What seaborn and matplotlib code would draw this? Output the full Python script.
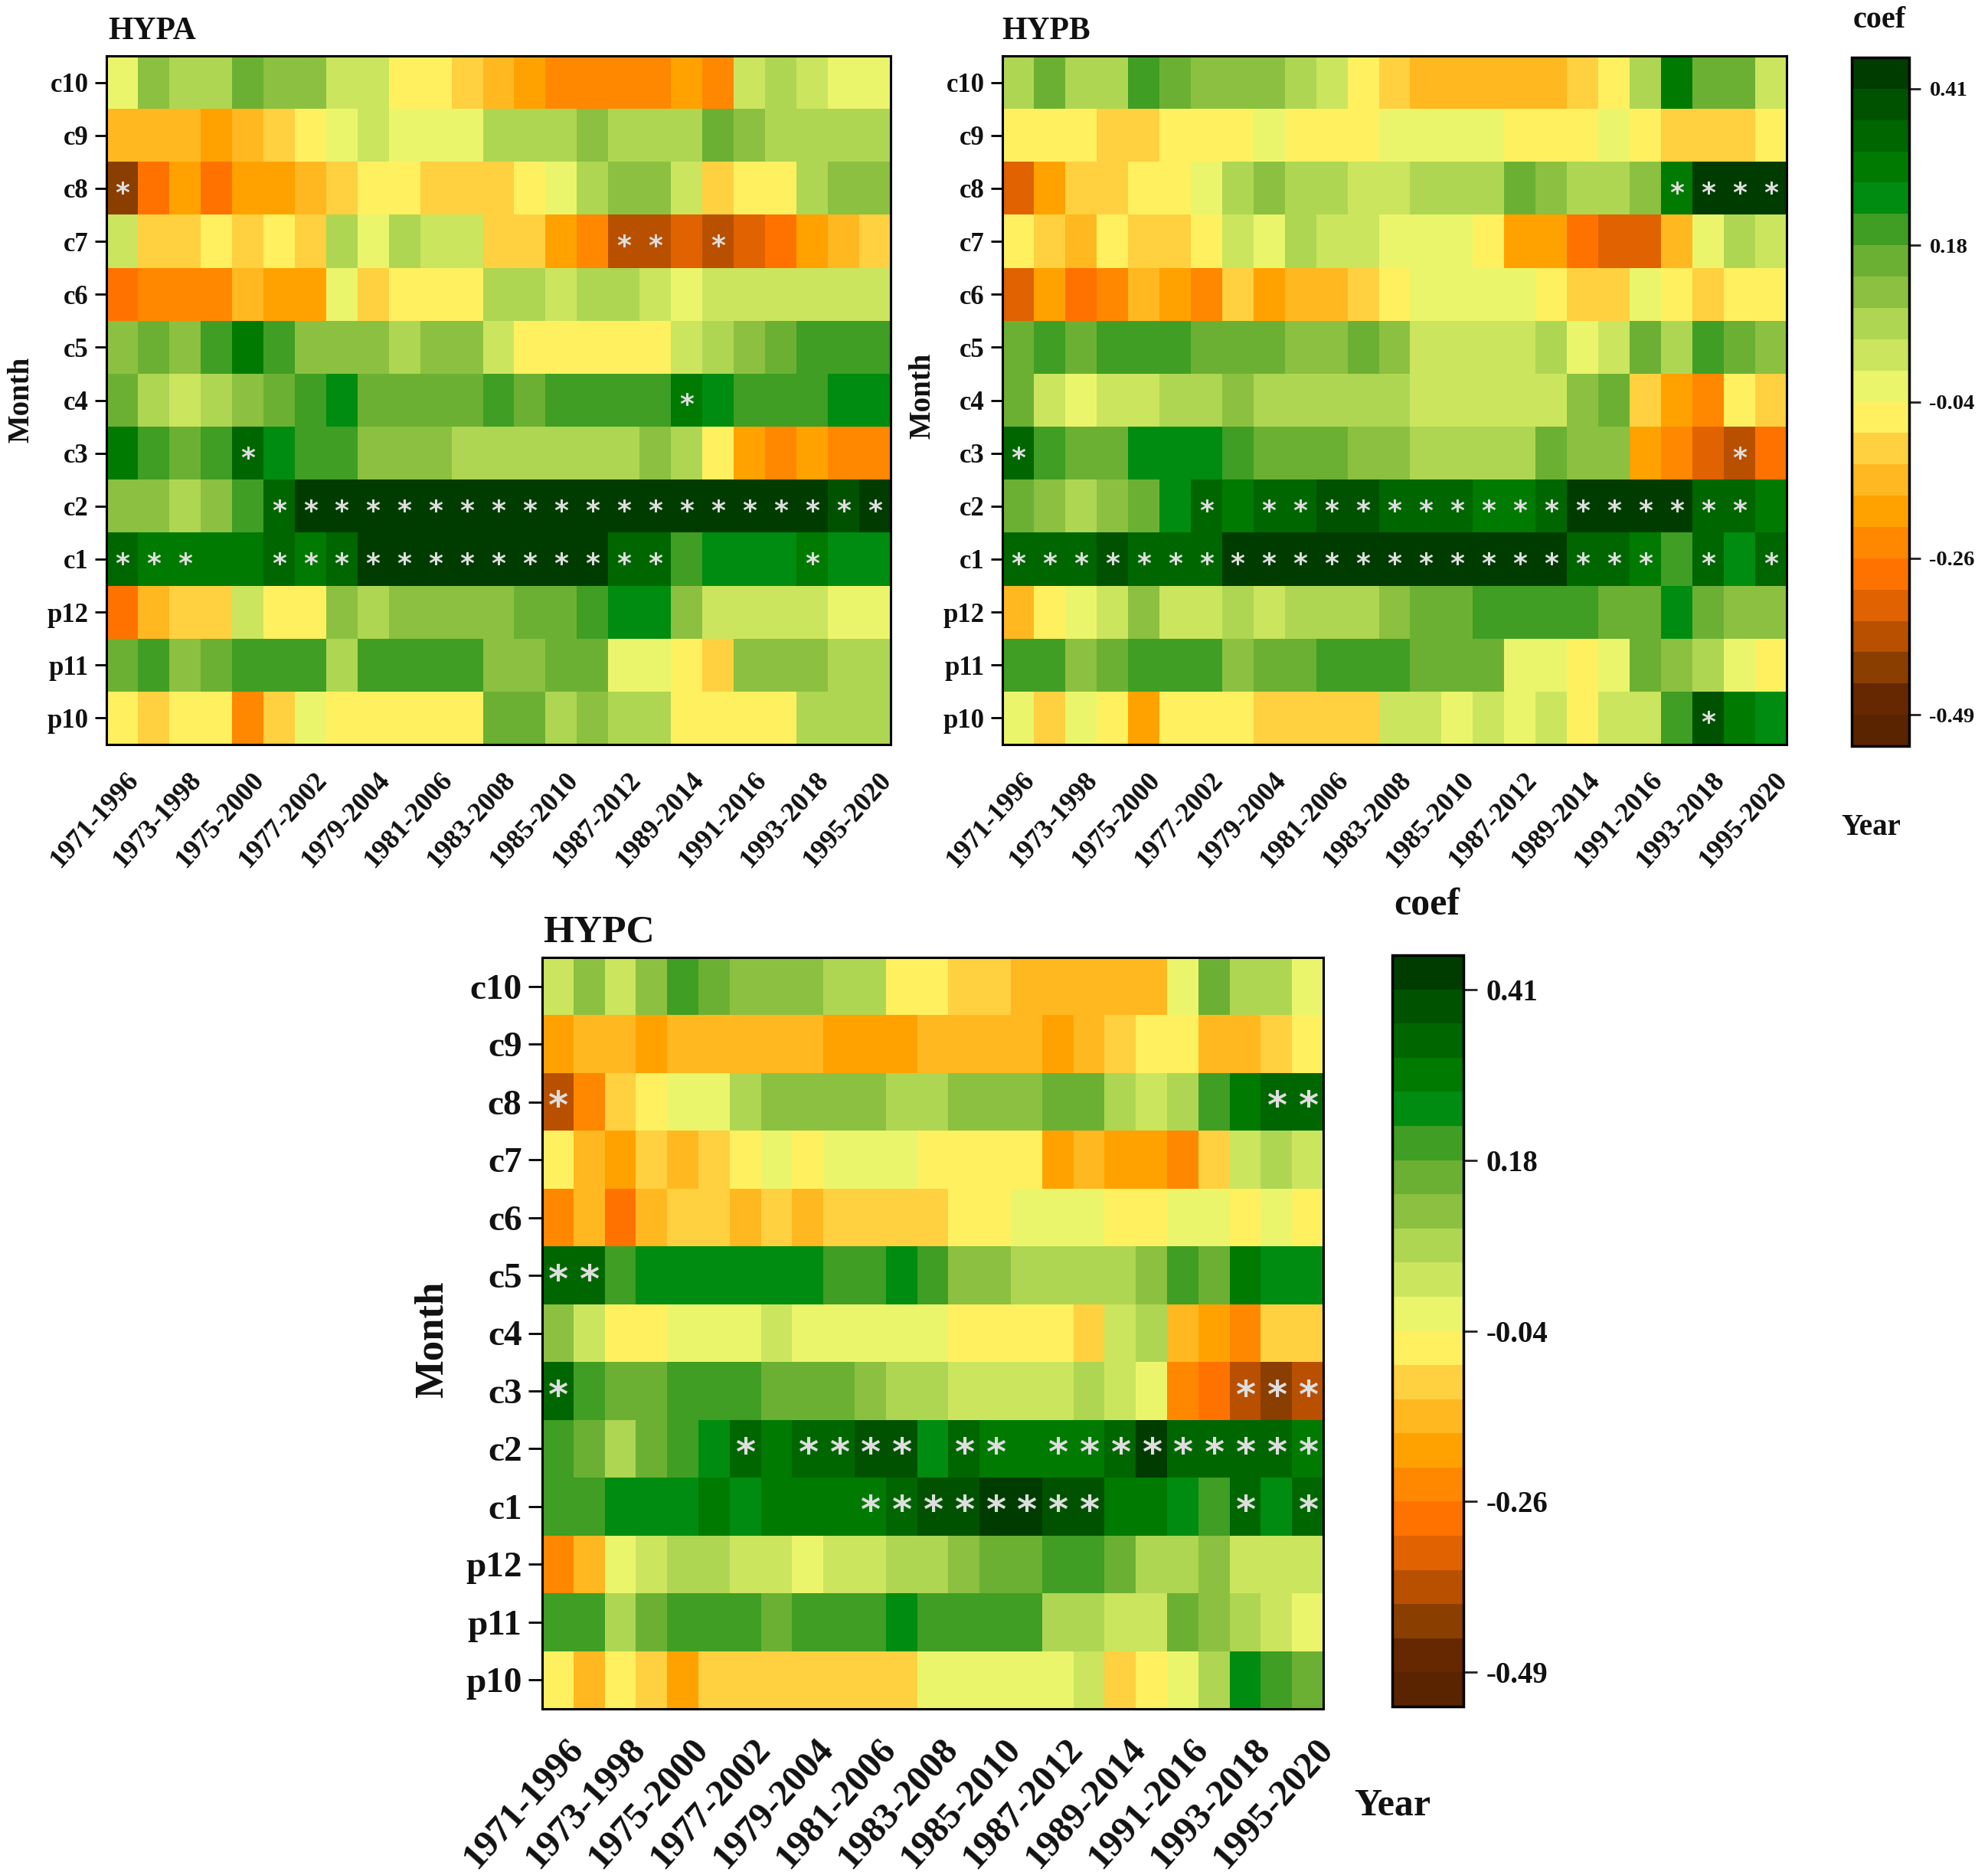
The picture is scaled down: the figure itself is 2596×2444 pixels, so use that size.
import numpy as np
import pandas as pd
import seaborn as sns
import matplotlib.pyplot as plt
from matplotlib.colors import ListedColormap
from matplotlib.transforms import ScaledTranslation

FONT = 'Liberation Serif'
W, H = 2596, 2444

months = ['c10', 'c9', 'c8', 'c7', 'c6', 'c5', 'c4', 'c3', 'c2', 'c1', 'p12', 'p11', 'p10']
periods = ['1971-1996', '1972-1997', '1973-1998', '1974-1999', '1975-2000', '1976-2001', '1977-2002',
           '1978-2003', '1979-2004', '1980-2005', '1981-2006', '1982-2007', '1983-2008', '1984-2009',
           '1985-2010', '1986-2011', '1987-2012', '1988-2013', '1989-2014', '1990-2015', '1991-2016',
           '1992-2017', '1993-2018', '1994-2019', '1995-2020']

hypa = [
    [-.02, .12, .07, .07, .16, .12, .12, .03, .03, -.06, -.06, -.11, -.15, -.20, -.24, -.24, -.24, -.24, -.20, -.24, .03, .07, .03, -.02, -.02],
    [-.15, -.15, -.15, -.20, -.15, -.11, -.06, -.02, .03, -.02, -.02, -.02, .07, .07, .07, .12, .07, .07, .07, .16, .12, .07, .07, .07, .07],
    [-.42, -.29, -.20, -.29, -.20, -.20, -.15, -.11, -.06, -.06, -.11, -.11, -.11, -.06, -.02, .07, .12, .12, .03, -.11, -.06, -.06, .07, .12, .12],
    [.03, -.11, -.11, -.06, -.11, -.06, -.11, .07, -.02, .07, .03, .03, -.11, -.11, -.20, -.24, -.38, -.38, -.33, -.38, -.33, -.29, -.20, -.15, -.11],
    [-.29, -.24, -.24, -.24, -.15, -.20, -.20, -.02, -.11, -.06, -.06, -.06, .07, .07, .03, .07, .07, .03, -.02, .03, .03, .03, .03, .03, .03],
    [.12, .16, .12, .21, .30, .21, .12, .12, .12, .07, .12, .12, .03, -.06, -.06, -.06, -.06, -.06, .03, .07, .12, .16, .21, .21, .21],
    [.16, .07, .03, .07, .12, .16, .21, .25, .16, .16, .16, .16, .21, .16, .21, .21, .21, .21, .30, .25, .21, .21, .21, .25, .25],
    [.30, .21, .16, .21, .34, .25, .21, .21, .12, .12, .12, .07, .07, .07, .07, .07, .07, .12, .07, -.06, -.20, -.24, -.20, -.24, -.24],
    [.12, .12, .07, .12, .21, .34, .43, .43, .43, .43, .43, .43, .43, .43, .43, .43, .43, .43, .43, .43, .43, .43, .43, .39, .43],
    [.34, .30, .30, .30, .30, .34, .30, .34, .43, .43, .43, .43, .43, .43, .43, .43, .34, .34, .21, .25, .25, .25, .30, .25, .25],
    [-.29, -.15, -.11, -.11, .03, -.06, -.06, .12, .07, .12, .12, .12, .12, .16, .16, .21, .25, .25, .12, .03, .03, .03, .03, -.02, -.02],
    [.16, .21, .12, .16, .21, .21, .21, .07, .21, .21, .21, .21, .12, .12, .16, .16, -.02, -.02, -.06, -.11, .12, .12, .12, .07, .07],
    [-.06, -.11, -.06, -.06, -.24, -.11, -.02, -.06, -.06, -.06, -.06, -.06, .16, .16, .07, .12, .07, .07, -.06, -.06, -.06, -.06, .07, .07, .07],
]

hypb = [
    [.07, .16, .07, .07, .21, .16, .12, .12, .12, .07, .03, -.06, -.11, -.15, -.15, -.15, -.15, -.15, -.11, -.06, .07, .30, .16, .16, .03],
    [-.06, -.06, -.06, -.11, -.11, -.06, -.06, -.06, -.02, -.06, -.06, -.06, -.02, -.02, -.02, -.02, -.06, -.06, -.06, -.02, -.06, -.11, -.11, -.11, -.06],
    [-.33, -.20, -.11, -.11, -.06, -.06, -.02, .07, .12, .07, .07, .03, .03, .07, .07, .07, .16, .12, .07, .07, .12, .30, .43, .43, .43],
    [-.06, -.11, -.15, -.06, -.11, -.11, -.06, .03, -.02, .07, .03, .03, -.02, -.02, -.02, -.06, -.20, -.20, -.29, -.33, -.33, -.15, -.02, .07, .03],
    [-.33, -.20, -.29, -.24, -.15, -.20, -.24, -.11, -.20, -.15, -.15, -.11, -.06, -.02, -.02, -.02, -.02, -.06, -.11, -.11, -.02, -.06, -.11, -.06, -.06],
    [.16, .21, .16, .21, .21, .21, .16, .16, .16, .12, .12, .16, .12, .03, .03, .03, .03, .07, -.02, .03, .16, .07, .21, .16, .12],
    [.16, .03, -.02, .03, .03, .07, .07, .12, .07, .07, .07, .07, .07, .03, .03, .03, .03, .03, .12, .16, -.11, -.20, -.24, -.06, -.11],
    [.34, .21, .16, .16, .25, .25, .25, .21, .16, .16, .16, .12, .12, .07, .07, .07, .07, .16, .12, .12, -.20, -.24, -.33, -.38, -.29],
    [.16, .12, .07, .12, .16, .25, .34, .30, .34, .34, .39, .39, .34, .34, .34, .30, .30, .34, .43, .43, .43, .43, .34, .34, .30],
    [.34, .34, .34, .39, .34, .34, .34, .43, .43, .43, .43, .43, .43, .43, .43, .43, .43, .43, .34, .34, .30, .21, .34, .25, .34],
    [-.15, -.06, -.02, .03, .12, .03, .03, .07, .03, .07, .07, .07, .12, .16, .16, .21, .21, .21, .21, .16, .16, .25, .16, .12, .12],
    [.21, .21, .12, .16, .21, .21, .21, .12, .16, .16, .21, .21, .21, .16, .16, .16, -.02, -.02, -.06, -.02, .16, .12, .07, -.02, -.06],
    [-.02, -.11, -.02, -.06, -.20, -.06, -.06, -.06, -.11, -.11, -.11, -.11, .03, .03, -.02, .03, -.02, .03, -.06, .03, .03, .21, .39, .30, .25],
]

hypc = [
    [.03, .12, .03, .12, .21, .16, .12, .12, .12, .07, .07, -.06, -.06, -.11, -.11, -.15, -.15, -.15, -.15, -.15, -.02, .16, .07, .07, -.02],
    [-.20, -.15, -.15, -.20, -.15, -.15, -.15, -.15, -.15, -.20, -.20, -.20, -.15, -.15, -.15, -.15, -.20, -.15, -.11, -.06, -.06, -.15, -.15, -.11, -.06],
    [-.38, -.24, -.11, -.06, -.02, -.02, .07, .12, .12, .12, .12, .07, .07, .12, .12, .12, .16, .16, .07, .03, .07, .21, .30, .34, .34],
    [-.06, -.15, -.20, -.11, -.15, -.11, -.06, -.02, -.06, -.02, -.02, -.02, -.06, -.06, -.06, -.06, -.20, -.15, -.20, -.20, -.24, -.11, .03, .07, .03],
    [-.24, -.15, -.29, -.15, -.11, -.11, -.15, -.11, -.15, -.11, -.11, -.11, -.11, -.06, -.06, -.02, -.02, -.02, -.06, -.06, -.02, -.02, -.06, -.02, -.06],
    [.34, .34, .21, .25, .25, .25, .25, .25, .25, .21, .21, .25, .21, .12, .12, .07, .07, .07, .07, .12, .21, .16, .30, .25, .25],
    [.12, .03, -.06, -.06, -.02, -.02, -.02, .03, -.02, -.02, -.02, -.02, -.02, -.06, -.06, -.06, -.06, -.11, .03, .07, -.15, -.20, -.24, -.11, -.11],
    [.34, .21, .16, .16, .21, .21, .21, .16, .16, .16, .12, .07, .07, .03, .03, .03, .03, .07, .03, -.02, -.24, -.29, -.38, -.42, -.38],
    [.21, .16, .07, .16, .21, .25, .34, .30, .34, .34, .39, .39, .25, .34, .30, .30, .30, .30, .34, .43, .34, .34, .34, .34, .30],
    [.21, .21, .25, .25, .25, .30, .25, .30, .30, .30, .30, .34, .39, .39, .43, .43, .39, .39, .30, .30, .25, .21, .34, .25, .34],
    [-.24, -.15, -.02, .03, .07, .07, .03, .03, -.02, .03, .03, .07, .07, .12, .16, .16, .21, .21, .16, .07, .07, .12, .03, .03, .03],
    [.21, .21, .07, .16, .21, .21, .21, .16, .21, .21, .21, .25, .21, .21, .21, .21, .07, .07, .03, .03, .16, .12, .07, .03, -.02],
    [-.06, -.15, -.06, -.11, -.20, -.11, -.11, -.11, -.11, -.11, -.11, -.11, -.02, -.02, -.02, -.02, -.02, .03, -.11, -.06, -.02, .07, .25, .21, .16],
]

# significant cells, month -> window index
stars_a = {'c8': [0], 'c7': [16, 17, 19], 'c4': [18], 'c3': [4],
           'c2': [5, 6, 7, 8, 9, 10, 11, 12, 13, 14, 15, 16, 17, 18, 19, 20, 21, 22, 23, 24],
           'c1': [0, 1, 2, 5, 6, 7, 8, 9, 10, 11, 12, 13, 14, 15, 16, 17, 22]}
stars_b = {'c8': [21, 22, 23, 24], 'c3': [0, 23],
           'c2': [6, 8, 9, 10, 11, 12, 13, 14, 15, 16, 17, 18, 19, 20, 21, 22, 23],
           'c1': [0, 1, 2, 3, 4, 5, 6, 7, 8, 9, 10, 11, 12, 13, 14, 15, 16, 17, 18, 19, 20, 22, 24],
           'p10': [22]}
stars_c = {'c8': [0, 23, 24], 'c5': [0, 1], 'c3': [0, 22, 23, 24],
           'c2': [6, 8, 9, 10, 11, 13, 14, 16, 17, 18, 19, 20, 21, 22, 23, 24],
           'c1': [10, 11, 12, 13, 14, 15, 16, 17, 22, 24]}

band_colors = ['#5a2400', '#662800', '#8a3e00', '#b85000', '#e06200', '#ff7200', '#ff8800', '#ffa200',
               '#ffb820', '#ffd040', '#fff060', '#ebf56b', '#cbe55f', '#aed653', '#8cc040', '#6cb033',
               '#3f9e23', '#008c10', '#007a00', '#006600', '#005200', '#003c00']
cbar_ticks = [-0.49, -0.265, -0.04, 0.185, 0.41]
cbar_labels = ['-0.49', '-0.26', '-0.04', '0.18', '0.41']

sns.set_theme(style='white')
plt.rcParams['font.family'] = FONT
plt.rcParams['font.weight'] = 'bold'
plt.rcParams['axes.labelweight'] = 'bold'
cmap = ListedColormap(band_colors)


def box(x0, y0, x1, y1):
    # pixel box of the reference to figure fractions
    return [x0 / W, 1 - y1 / H, (x1 - x0) / W, (y1 - y0) / H]


def panel(fig, values, stars, rect, cbar_rect, fs, star_fs, tick_len, xshift):
    df = pd.DataFrame(values, index=months, columns=periods)
    annot = df.copy().astype(object)
    annot.loc[:, :] = ''
    for m, cols in stars.items():
        for c in cols:
            annot.loc[m, periods[c]] = '*'
    ax = fig.add_axes(box(*rect))
    cax = fig.add_axes(box(*cbar_rect)) if cbar_rect else None
    sns.heatmap(df, ax=ax, cmap=cmap, vmin=-0.535, vmax=0.455, annot=annot, fmt='',
                annot_kws={'color': '#dedede', 'fontsize': star_fs, 'fontweight': 'bold',
                           'family': 'DejaVu Sans'},
                xticklabels=2, yticklabels=True, cbar=cax is not None, cbar_ax=cax)
    # asterisk glyphs sit high in their line box
    for t in ax.texts:
        x, y = t.get_position()
        t.set_position((x, y + 0.10))
    for sp in ax.spines.values():
        sp.set_visible(True)
        sp.set_linewidth(2.2)
        sp.set_color('black')
    ax.tick_params(axis='y', left=True, length=tick_len, width=2, labelsize=fs, rotation=0, pad=6, color='black', labelcolor='#111111')
    ax.tick_params(axis='x', bottom=True, direction='in', length=tick_len, width=2, color='black')
    for t in ax.get_yticklabels():
        t.set_va('center_baseline')
    ax.set_xticklabels(ax.get_xticklabels(), rotation=48, ha='right', rotation_mode='anchor',
                       fontsize=fs * 1.03, color='#111111')
    ax.tick_params(axis='x', pad=22)
    shift = ScaledTranslation(xshift / 100, 0, fig.dpi_scale_trans)
    for t in ax.get_xticklabels():
        t.set_transform(t.get_transform() + shift)
    ax.set_xlabel('')
    ax.set_ylabel('')
    if cax is not None:
        cb = ax.collections[0].colorbar
        cb.set_ticks(cbar_ticks, labels=cbar_labels)
        cb.ax.tick_params(length=tick_len, width=2, labelsize=fs * 0.82, pad=8, color='#222222', labelcolor='#111111')
        cb.outline.set_visible(True)
        cb.outline.set_linewidth(2.5)
        cb.outline.set_edgecolor('black')
    return ax


def label(fig, x, y, s, size, **kw):
    fig.text(x / W, 1 - y / H, s, fontsize=size, fontweight='bold', ha=kw.pop('ha', 'center'), va='center', color='#111111', **kw)


fig = plt.figure(figsize=(W / 100, H / 100), dpi=100)

panel(fig, hypa, stars_a, (139, 73, 1163, 972), None, 25, 26, 11, 4)
panel(fig, hypb, stars_b, (1309, 73, 2333, 972), (2418, 75, 2493, 974), 25, 26, 11, 4)
panel(fig, hypc, stars_c, (708, 1250, 1728, 2231), (1818, 1247, 1911, 2228), 34, 36, 13, 9)

label(fig, 141, 41, 'HYPA', 30, ha='left')
label(fig, 1308, 41, 'HYPB', 30, ha='left')
label(fig, 709, 1217, 'HYPC', 37, ha='left')
label(fig, 2454, 27, 'coef', 29)
label(fig, 1863, 1182, 'coef', 36)
label(fig, 2443, 1080, 'Year', 28)
label(fig, 1818, 2358, 'Year', 36)
label(fig, 28, 522, 'Month', 28, rotation=90)
label(fig, 1205, 517, 'Month', 28, rotation=90)
label(fig, 565, 1749, 'Month', 38, rotation=90)

fig.savefig('out.png', dpi=100, facecolor='white')
